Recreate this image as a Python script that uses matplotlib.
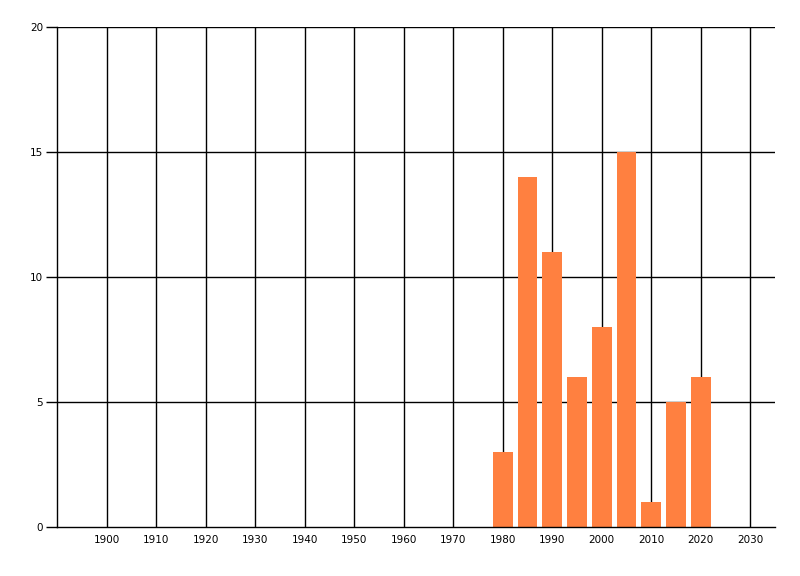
import matplotlib
matplotlib.use("Agg")
import matplotlib.pyplot as plt

years = [1980, 1985, 1990, 1995, 2000, 2005, 2010, 2015, 2020]
counts = [3, 14, 11, 6, 8, 15, 1, 5, 6]
xticks = list(range(1900, 2031, 10))
yticks = [0, 5, 10, 15, 20]

fig = plt.figure(figsize=(8, 5.76), dpi=100)
ax = fig.add_axes([57/800, 1-527/576, (775-57)/800, 500/576])
ax.set_xlim(1890, 2035)
ax.set_ylim(0, 20)

for x in xticks:
    ax.axvline(x, color="black", lw=1, zorder=1)
for y in yticks[1:]:
    ax.axhline(y, color="black", lw=1, zorder=1)

ax.bar(years, counts, width=4, color="#FF8040", zorder=2)

for s in ["top", "right"]:
    ax.spines[s].set_visible(False)
ax.spines["left"].set_linewidth(1)
ax.spines["bottom"].set_linewidth(1)
ax.set_xticks(xticks)
ax.set_xticklabels([str(x) for x in xticks])
ax.set_yticks(yticks)
ax.set_yticklabels([str(y) for y in yticks])
ax.tick_params(axis="x", length=0, pad=6, labelsize=7.5)
ax.tick_params(axis="y", length=8, width=1, pad=2, labelsize=7.5)

fig.savefig("out.png", dpi=100)
